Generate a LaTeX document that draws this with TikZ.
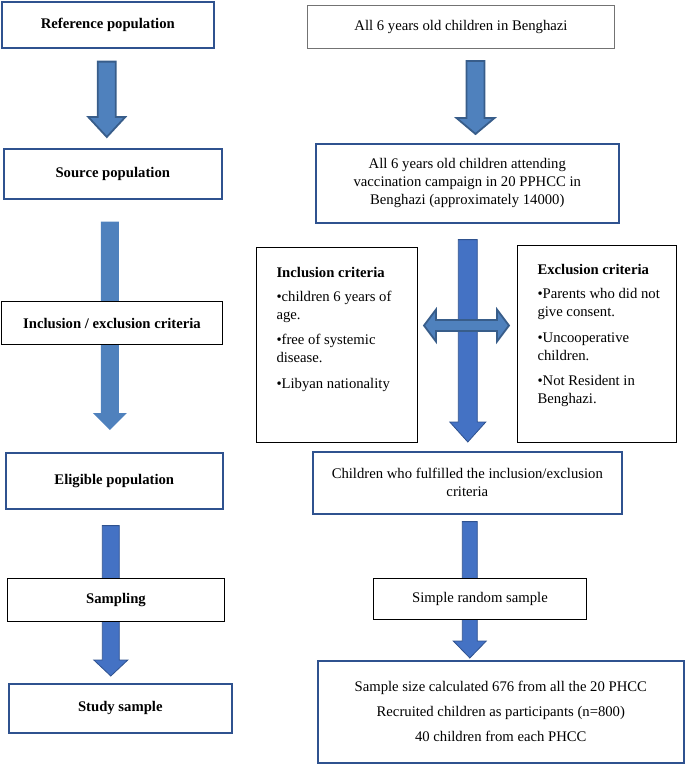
\documentclass[tikz,border=0pt]{standalone}
\usepackage{fontspec}
\setmainfont{Liberation Serif}
\usetikzlibrary{calc,positioning,backgrounds}

\definecolor{boxblue}{RGB}{47,82,143}
\definecolor{arrowfill}{RGB}{79,129,189}
\definecolor{arrowedge}{RGB}{56,93,138}
\definecolor{arrowfilldark}{RGB}{68,114,196}
\definecolor{arrowedgedark}{RGB}{47,82,143}

\tikzstyle{box}=[rectangle, anchor=north west, fill=white, align=center, inner sep=2pt, font=\fontsize{14.7}{18}\selectfont]
\tikzstyle{bluebox}=[box, draw=boxblue, line width=1.6pt]
\tikzstyle{blackbox}=[box, draw=black, line width=1pt]
\tikzstyle{graybox}=[box, draw=black!55, line width=1pt]
\tikzstyle{critbox}=[blackbox, inner xsep=20pt, inner ysep=15pt]
\tikzstyle{fatarrow}=[fill=arrowfill, draw=arrowedge, line width=1.8pt, line join=miter]
\tikzstyle{plainarrow}=[fill=arrowfill]
\tikzstyle{darkarrow}=[fill=arrowfilldark, draw=arrowedgedark, line width=0.8pt]

% block arrow: [style]{tail}{tip}{half shaft}{half head}{head length}
\newcommand{\blockarrow}[6][fatarrow]{%
  \path[#1] let \p1=(#2), \p2=(#3) in
    (\x1-#4,\y1) -- (\x1+#4,\y1) -- (\x1+#4,\y2+#6) -- (\x1+#5,\y2+#6)
    -- (\x1,\y2) -- (\x1-#5,\y2+#6) -- (\x1-#4,\y2+#6) -- cycle;}

\begin{document}
\begin{tikzpicture}[x=1pt, y=-1pt]
		\useasboundingbox (0,0) rectangle (685,764);
		
		% left column
		\node[bluebox, minimum width=212pt, minimum height=46pt] at (1, 1) (ref) {\textbf{Reference population}};
		
		\node[bluebox, minimum width=218pt, minimum height=50pt] at (3, 148) (src) {\textbf{Source population}};
		
		\node[blackbox, minimum width=221pt, minimum height=43pt] at (1, 301) (incex) {\textbf{Inclusion / exclusion criteria}};
		
		\node[bluebox, minimum width=217pt, minimum height=56pt] at (5, 452) (elig) {\textbf{Eligible population}};
		
		\node[blackbox, minimum width=217pt, minimum height=43pt] at (7, 578) (samp) {\textbf{Sampling}};
		
		\node[bluebox, minimum width=223pt, minimum height=49pt] at (8, 683) (study) {\textbf{Study sample}};
		
		% right column
		\node[graybox, minimum width=307pt, minimum height=43pt] at (307, 5) (all6) {All 6 years old children in Benghazi};
		
		\node[bluebox, minimum width=303pt, minimum height=79pt] at (315, 143) (att) {All 6 years old children attending\\ vaccination campaign in 20 PPHCC in\\ Benghazi (approximately 14000)};
		
		\node[critbox] at (256, 247) (incl) {\parbox[c][165pt][t]{121pt}{\raggedright\vspace*{5pt}
			\textbf{Inclusion criteria}\\[6pt]
			\mbox{\textbullet children 6 years of}\\ age.\\[7pt]
			\mbox{\textbullet free of systemic}\\ disease.\\[8pt]
			\mbox{\textbullet Libyan nationality}}};
		
		\node[critbox] at (517, 245) (excl) {\parbox[c][167pt][t]{119pt}{\raggedright\vspace*{4pt}
			\textbf{Exclusion criteria}\\[6pt]
			\mbox{\textbullet Parents who did not}\\ give consent.\\[8pt]
			\mbox{\textbullet Uncooperative}\\ children.\\[7pt]
			\mbox{\textbullet Not Resident in}\\ Benghazi.}};
		
		\node[bluebox, minimum width=309pt, minimum height=62pt] at (312, 451) (ful) {Children who fulfilled the inclusion/exclusion\\ criteria};
		
		\node[blackbox, minimum width=213pt, minimum height=41pt] at (373, 578) (srs) {Simple random sample};
		
		\node[bluebox, minimum width=366pt, minimum height=102pt] at (317, 660) (fin) {Sample size calculated 676 from all the 20 PHCC\\[7pt] Recruited children as participants (n=800)\\[7pt] 40 children from each PHCC};
		
		\begin{scope}[on background layer]
		\blockarrow[fatarrow]{$(ref.south)+(-1,13)$}{$(src.north)+(0,-11)$}{9pt}{18.5pt}{20pt}
		\blockarrow[plainarrow]{$(src.south)+(-3,22)$}{$(elig.north)+(0,-22)$}{9pt}{17pt}{17pt}
		\blockarrow[darkarrow]{$(elig.south)+(-3.5,16)$}{$(study.north)+(0,-7)$}{8.5pt}{17pt}{16pt}
		\blockarrow[fatarrow]{$(all6.south)+(14.5,12)$}{$(att.north)+(0,-9)$}{9pt}{19pt}{16pt}
		\blockarrow[darkarrow]{$(att.south)+(0.5,16)$}{$(ful.north)+(0,-9)$}{9.5pt}{18pt}{20pt}
		\blockarrow[darkarrow]{$(ful.south)+(2.5,7)$}{$(fin.north)+(0,-2)$}{7.5pt}{16.5pt}{17pt}
		% double arrow between the criteria boxes
		\path[fatarrow] let \p1=($(incl.east)+(6,-19.5)$), \p2=($(excl.west)+(-8,-19.5)$) in
			(\x1,\y1) -- (\x1+12pt,\y1+16pt) -- (\x1+12pt,\y1+5.5pt) -- (\x2-12pt,\y1+5.5pt)
			-- (\x2-12pt,\y1+16pt) -- (\x2,\y1) -- (\x2-12pt,\y1-16pt) -- (\x2-12pt,\y1-5.5pt)
			-- (\x1+12pt,\y1-5.5pt) -- (\x1+12pt,\y1-16pt) -- cycle;
		\end{scope}
		
\end{tikzpicture}
\end{document}
